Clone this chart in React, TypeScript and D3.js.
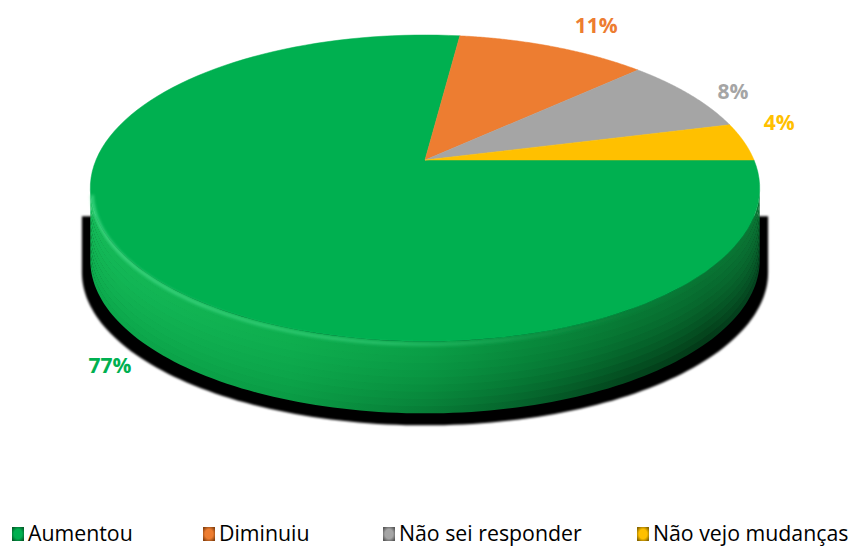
import React from 'react';
import * as d3 from 'd3';

const categories = ['Aumentou', 'Diminuiu', 'Não sei responder', 'Não vejo mudanças'];
const values = [77, 11, 8, 4];
const labels = ['77%', '11%', '8%', '4%'];
const colors = ['#00B050', '#ED7D31', '#A5A5A5', '#FFC000'];
const darkColors = ['#04602A', '#8A4310', '#5A5A5A', '#8A6800'];

const W = 856;
const H = 547;
const CX = 425;
const CY = 160;
const SRX = 329;
const SRY = 148;
const K = 0.184;
const DEPTH = 72;
const NBANDS = 10;

function proj(phi: number, r = 1): [number, number] {
  const d = 1 + K * r * Math.cos(phi);
  return [CX + (SRX * r * Math.sin(phi)) / d, CY - (SRY * r * Math.cos(phi)) / d];
}

function samples(a: number, b: number, n = 120): number[] {
  return d3.range(n + 1).map((i) => a + ((b - a) * i) / n);
}

const legendX = [12, 203, 383, 637];
const labelR = [1.12, 1.1, 1.1, 1.1];
const labelNudge: [number, number][] = [
  [5, 78],
  [32, -12],
  [19, 2],
  [4, -18],
];

// side shading stops (offset, top colour, bottom colour)
const sideOffsets = [0, 0.3, 0.5, 0.65, 0.8, 0.92, 1];
const sideTopCols = ['#14BA58', '#0EAF4F', '#0AA047', '#088C3D', '#077B35', '#087232', '#0A7534'];
const sideBotCols = ['#0CA94C', '#0A9C45', '#077E37', '#05622B', '#03461D', '#033A18', '#044520'];

export default function App() {
  const pie = d3
    .pie<number>()
    .sort(null)
    .startAngle(Math.PI / 2)
    .endAngle(Math.PI / 2 + 2 * Math.PI)(values);

  const line = d3.line<[number, number]>();

  const phiR = Math.acos(-K);
  const phiL = 2 * Math.PI - phiR;

  const tops = pie.map((a) => {
    const pts: [number, number][] = [[CX, CY], ...samples(a.startAngle, a.endAngle).map((p) => proj(p))];
    return line(pts) + 'Z';
  });

  const bandEdges = d3.range(NBANDS + 1).map((i) => (DEPTH * i) / NBANDS);
  const sides: { i: number; d: string; band: number }[] = [];
  pie.forEach((a, i) => {
    for (const off of [-2 * Math.PI, 0, 2 * Math.PI]) {
      const s = Math.max(a.startAngle + off, phiR);
      const e = Math.min(a.endAngle + off, phiL);
      if (e > s) {
        for (let bi = 0; bi < NBANDS; bi++) {
          const t0 = bandEdges[bi];
          const t1 = bandEdges[bi + 1] + (bi < NBANDS - 1 ? 0.8 : 0);
          const ss = samples(s, e);
          const top = ss.map((p) => {
            const [x, y] = proj(p);
            return [x, y + t0] as [number, number];
          });
          const bot = ss
            .slice()
            .reverse()
            .map((p) => {
              const [x, y] = proj(p);
              return [x, y + t1] as [number, number];
            });
          sides.push({ i, d: line([...top, ...bot]) + 'Z', band: bi });
        }
      }
    }
  });

  const sx = (x: number) => CX + (x - CX) * 1.025;
  const frontS = samples(phiR, phiL).map((p) => {
    const [x, y] = proj(p);
    return [sx(x), y + DEPTH + 12] as [number, number];
  });
  const [rx0, ry0] = proj(phiR);
  const [lx0, ly0] = proj(phiL);
  const shadowPts: [number, number][] = [[sx(rx0), ry0 + 28], ...frontS, [sx(lx0), ly0 + 28]];
  const shadowD = line(shadowPts) + 'Z';

  const hl = line(
    samples(phiR + 0.05, phiL - 0.02).map((p) => {
      const [x, y] = proj(p, 0.995);
      return [x, y + 4] as [number, number];
    })
  );

  const labelPos = pie.map((a, i) => {
    const mid = (a.startAngle + a.endAngle) / 2;
    const [x, y] = proj(mid, labelR[i]);
    return [x + labelNudge[i][0], y + labelNudge[i][1]];
  });

  const bandT = (bi: number) => {
    const t = bi / (NBANDS - 1);
    return t * t * 0.6 + t * 0.4;
  };

  return (
    <svg width={W} height={H} style={{ position: 'absolute', left: 0, top: 0, background: '#fff' }}>
      <defs>
        {d3.range(NBANDS).map((bi) => (
          <linearGradient key={bi} id={`side${bi}`} gradientUnits="userSpaceOnUse" x1={90} y1={0} x2={760} y2={0}>
            {sideOffsets.map((o, k) => (
              <stop key={k} offset={o} stopColor={d3.interpolateRgb(sideTopCols[k], sideBotCols[k])(bandT(bi))} />
            ))}
          </linearGradient>
        ))}
        <linearGradient id="hlGrad" gradientUnits="userSpaceOnUse" x1={90} y1={0} x2={760} y2={0}>
          <stop offset="0" stopColor="#4CE08E" stopOpacity="0.8" />
          <stop offset="0.45" stopColor="#3ED682" stopOpacity="0.6" />
          <stop offset="0.75" stopColor="#2BC46F" stopOpacity="0.1" />
          <stop offset="1" stopColor="#2BC46F" stopOpacity="0" />
        </linearGradient>
        <filter id="blur2" x="-10%" y="-10%" width="120%" height="120%">
          <feGaussianBlur stdDeviation="1.6" />
        </filter>
        <filter id="blur1" x="-10%" y="-10%" width="120%" height="120%">
          <feGaussianBlur stdDeviation="0.8" />
        </filter>
        {colors.map((c, i) => (
          <radialGradient key={i} id={`lg${i}`} cx="0.5" cy="0.5" r="0.6">
            <stop offset="0" stopColor={c} />
            <stop offset="0.55" stopColor={c} />
            <stop offset="1" stopColor={darkColors[i]} />
          </radialGradient>
        ))}
      </defs>

      <path d={shadowD} fill="#000" filter="url(#blur1)" />

      {sides.map((s, k) => (
        <path key={k} d={s.d} fill={`url(#side${s.band})`} />
      ))}

      {tops.map((d, i) => (
        <path key={i} d={d} fill={colors[i]} stroke={colors[i]} strokeWidth={0.5} />
      ))}

      <path d={hl || ''} fill="none" stroke="url(#hlGrad)" strokeWidth={3} filter="url(#blur2)" />

      {labels.map((t, i) => (
        <text
          key={i}
          x={labelPos[i][0]}
          y={labelPos[i][1]}
          textAnchor="middle"
          dominantBaseline="central"
          fontFamily="'Open Sans', sans-serif"
          fontWeight="bold"
          fontSize={21}
          fill={colors[i]}
        >
          {t}
        </text>
      ))}

      {categories.map((c, i) => (
        <g key={i} transform={`translate(${legendX[i]},527)`}>
          <rect x={0} y={0} width={12} height={14} fill={`url(#lg${i})`} />
          <text x={16} y={13.5} fontFamily="'Open Sans', sans-serif" fontSize={21.3} fill="#000">
            {c}
          </text>
        </g>
      ))}
    </svg>
  );
}
